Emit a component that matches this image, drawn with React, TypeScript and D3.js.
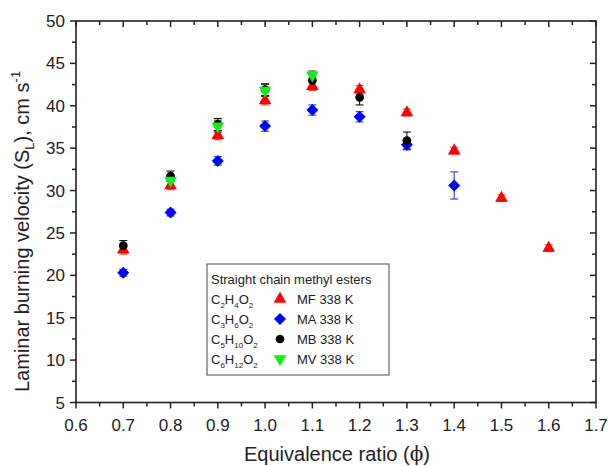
import React from "react";
import * as d3 from "d3";

const phiMF = [0.7, 0.8, 0.9, 1.0, 1.1, 1.2, 1.3, 1.4, 1.5, 1.6];
const valMF = [23.0, 30.6, 36.5, 40.6, 42.3, 41.9, 39.2, 34.7, 29.1, 23.2];
const errMF = [0.5, 0.5, 0.5, 0.5, 0.5, 0.5, 0.4, 0.4, 0.4, 0.4];

const phiMA = [0.7, 0.8, 0.9, 1.0, 1.1, 1.2, 1.3, 1.4];
const valMA = [20.3, 27.4, 33.5, 37.6, 39.5, 38.7, 35.4, 30.6];
const errMA = [0.4, 0.4, 0.5, 0.6, 0.6, 0.6, 0.6, 1.6];

const phiMB = [0.7, 0.8, 0.9, 1.0, 1.1, 1.2, 1.3];
const valMB = [23.5, 31.7, 37.8, 41.9, 43.0, 41.0, 35.9];
const errMB = [0.6, 0.6, 0.7, 0.7, 0.8, 0.9, 1.0];

const phiMV = [0.8, 0.9, 1.0, 1.1];
const valMV = [31.2, 37.6, 41.8, 43.6];
const errMV = [0.6, 0.7, 0.7, 0.5];

const xTicks = [0.6, 0.7, 0.8, 0.9, 1.0, 1.1, 1.2, 1.3, 1.4, 1.5, 1.6, 1.7];
const yTicks = [5, 10, 15, 20, 25, 30, 35, 40, 45, 50];

const seriesNames = ["MF 338 K", "MA 338 K", "MB 338 K", "MV 338 K"];
const formulas = [
  ["C", "2", "H", "4", "O", "2"],
  ["C", "3", "H", "6", "O", "2"],
  ["C", "5", "H", "10", "O", "2"],
  ["C", "6", "H", "12", "O", "2"],
];

const W = 609, H = 466;
const L = 76, R = 596, T = 21, B = 402.5;
const FONT = "'Liberation Sans', Arial, sans-serif";

const x = d3.scaleLinear().domain([0.6, 1.7]).range([L, R]);
const y = d3.scaleLinear().domain([5, 50]).range([B, T]);

type Kind = "tri" | "dia" | "circ" | "inv";
const sym = (k: Kind) => {
  if (k === "tri") return d3.symbol(d3.symbolTriangle, 70)() as string;
  if (k === "inv") return d3.symbol(d3.symbolTriangle, 70)() as string;
  if (k === "dia") return d3.symbol(d3.symbolSquare, 72)() as string;
  return d3.symbol(d3.symbolCircle, 60)() as string;
};
const rot = (k: Kind) => (k === "dia" ? 45 : k === "inv" ? 180 : 0);

const series = [
  { phi: phiMF, val: valMF, err: errMF, color: "#ff0000", bar: "#ff3333", kind: "tri" as Kind },
  { phi: phiMA, val: valMA, err: errMA, color: "#0000ff", bar: "#2222cc", kind: "dia" as Kind },
  { phi: phiMB, val: valMB, err: errMB, color: "#000000", bar: "#000000", kind: "circ" as Kind },
  { phi: phiMV, val: valMV, err: errMV, color: "#11ee11", bar: "#333333", kind: "inv" as Kind },
];

export default function App() {
  const minorX = d3.range(0, 22).map((i) => 0.65 + i * 0.1).filter((v) => v < 1.7);
  const minorY = d3.range(0, 9).map((i) => 7.5 + i * 5);
  return (
    <svg width={W} height={H} style={{ position: "absolute", left: 0, top: 0, background: "#fff" }} fontFamily={FONT}>
      {/* frame */}
      <rect x={L} y={T} width={R - L} height={B - T} fill="none" stroke="#222" strokeWidth={1.6} />
      {/* x ticks */}
      {xTicks.map((t) => (
        <g key={"xt" + t}>
          <line x1={x(t)} x2={x(t)} y1={B} y2={B + 6} stroke="#222" strokeWidth={1.5} />
          <line x1={x(t)} x2={x(t)} y1={T} y2={T + 6} stroke="#222" strokeWidth={1.5} />
          <text x={x(t)} y={431} fontSize={17} textAnchor="middle" fill="#222">{t.toFixed(1)}</text>
        </g>
      ))}
      {minorX.map((t) => (
        <g key={"xm" + t}>
          <line x1={x(t)} x2={x(t)} y1={B} y2={B + 4} stroke="#222" strokeWidth={1.5} />
          <line x1={x(t)} x2={x(t)} y1={T} y2={T + 4} stroke="#222" strokeWidth={1.5} />
        </g>
      ))}
      {yTicks.map((t) => (
        <g key={"yt" + t}>
          <line x1={L - 6} x2={L} y1={y(t)} y2={y(t)} stroke="#222" strokeWidth={1.5} />
          <line x1={R - 6} x2={R} y1={y(t)} y2={y(t)} stroke="#222" strokeWidth={1.5} />
          <text x={65} y={y(t) + 6} fontSize={17} textAnchor="end" fill="#222">{t}</text>
        </g>
      ))}
      {minorY.map((t) => (
        <g key={"ym" + t}>
          <line x1={L - 4} x2={L} y1={y(t)} y2={y(t)} stroke="#222" strokeWidth={1.5} />
          <line x1={R - 4} x2={R} y1={y(t)} y2={y(t)} stroke="#222" strokeWidth={1.5} />
        </g>
      ))}
      {/* axis titles */}
      <text x={337} y={461} fontSize={20} textAnchor="middle" fill="#222">
        Equivalence ratio (<tspan fontFamily="'DejaVu Serif', serif">ϕ</tspan>)
      </text>
      <text transform="translate(29,392) rotate(-90)" fontSize={20} fill="#222">
        Laminar burning velocity (S<tspan fontSize={13} dy={5}>L</tspan><tspan dy={-5}>), cm s</tspan>
        <tspan fontSize={13} dy={-9}>-1</tspan>
      </text>
      {/* error bars */}
      {series.map((s, si) =>
        s.phi.map((p, i) => (
          <g key={"e" + si + "-" + i} stroke={s.bar} strokeWidth={1}>
            <line x1={x(p)} x2={x(p)} y1={y(s.val[i] - s.err[i])} y2={y(s.val[i] + s.err[i])} />
            <line x1={x(p) - 4} x2={x(p) + 4} y1={y(s.val[i] - s.err[i])} y2={y(s.val[i] - s.err[i])} />
            <line x1={x(p) - 4} x2={x(p) + 4} y1={y(s.val[i] + s.err[i])} y2={y(s.val[i] + s.err[i])} />
          </g>
        ))
      )}
      {/* markers */}
      {series.map((s, si) =>
        s.phi.map((p, i) => (
          <path key={"m" + si + "-" + i} d={sym(s.kind)} fill={s.color}
            transform={`translate(${x(p)},${y(s.val[i])}) rotate(${rot(s.kind)})`} />
        ))
      )}
      {/* legend */}
      <rect x={207} y={264} width={182} height={111} fill="#fff" stroke="#666" strokeWidth={1.2} />
      <text x={211} y={284} fontSize={13} fill="#222">Straight chain methyl esters</text>
      {series.map((s, i) => {
        const ry = 300 + i * 20;
        const f = formulas[i];
        return (
          <g key={"lg" + i}>
            <text x={211} y={ry + 4} fontSize={13} fill="#222">
              {f[0]}<tspan fontSize={8} dy={4}>{f[1]}</tspan>
              <tspan dy={-4}>{f[2]}</tspan><tspan fontSize={8} dy={4}>{f[3]}</tspan>
              <tspan dy={-4}>{f[4]}</tspan><tspan fontSize={8} dy={4}>{f[5]}</tspan>
            </text>
            <path d={sym(s.kind)} fill={s.color} transform={`translate(280,${ry - 1}) rotate(${rot(s.kind)})`} />
            <text x={297} y={ry + 4} fontSize={13} fill="#222">{seriesNames[i]}</text>
          </g>
        );
      })}
    </svg>
  );
}
